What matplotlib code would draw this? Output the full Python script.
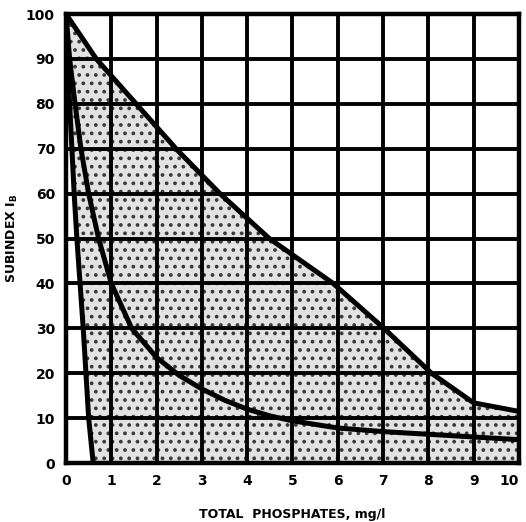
import matplotlib.pyplot as plt

# curve (total phosphates mg/l -> subindex)
upper_x = [0, 0.67, 1.55, 2.43, 3.4, 4.49, 5.9, 7.02, 8.07, 9, 10]
upper_y = [100, 90, 80, 70, 60, 50, 40, 30, 20, 13.4, 11.5]

middle_x = [0, 0.08, 0.2, 0.33, 0.5, 0.72, 1, 1.45, 2, 2.5, 3, 3.5, 4, 4.5,
            5, 6, 7, 8, 9, 10]
middle_y = [100, 90, 80, 70, 60, 50, 40, 30, 23.5, 19.5, 16.5, 14, 12, 10.5,
            9.4, 7.8, 7, 6.4, 5.8, 5.2]

steep_x = [0, 0.03, 0.08, 0.13, 0.18, 0.24, 0.31, 0.38, 0.44, 0.5, 0.6]
steep_y = [100, 90, 80, 70, 60, 50, 40, 30, 20, 10, 0]

x_ticks = list(range(0, 11))
y_ticks = list(range(0, 101, 10))


def draw_chart():
    plt.rcParams['font.family'] = ['DejaVu Sans']
    plt.rcParams['hatch.linewidth'] = 1.5

    fig = plt.figure(figsize=(5.26, 5.22), dpi=100)
    ax = fig.add_axes([0.1255, 0.113, 0.861, 0.86])

    # shaded band between the steep curve and the upper curve
    poly_x = upper_x + [10, steep_x[-1]] + steep_x[::-1]
    poly_y = upper_y + [0, 0] + steep_y[::-1]
    ax.fill(poly_x, poly_y, facecolor='#e2e2e2', hatch='..',
            edgecolor='#3a3a3a', linewidth=0, zorder=1)

    ax.set_xlim(0, 10)
    ax.set_ylim(0, 100)
    ax.set_xticks(x_ticks)
    ax.set_yticks(y_ticks)
    ax.grid(True, color='black', linewidth=2.8, zorder=2)
    ax.set_axisbelow(False)

    ax.plot(upper_x, upper_y, color='black', linewidth=3.6, zorder=3)
    ax.plot(middle_x, middle_y, color='black', linewidth=3.6, zorder=3)
    ax.plot(steep_x, steep_y, color='black', linewidth=3.6, zorder=3)

    for side in ax.spines.values():
        side.set_linewidth(3.2)
        side.set_zorder(4)

    ax.tick_params(length=0, labelsize=10, pad=8)
    for lbl in ax.get_xticklabels() + ax.get_yticklabels():
        lbl.set_fontweight('heavy')
    # last x label sits on the right edge, keep it inside the picture
    ax.get_xticklabels()[-1].set_horizontalalignment('right')

    ax.set_xlabel('TOTAL  PHOSPHATES, mg/l', fontsize=9, fontweight='heavy',
                  labelpad=14)
    ax.set_ylabel(r'SUBINDEX I$_\mathbf{B}$', fontsize=9, fontweight='heavy',
                  labelpad=4)

    fig.savefig('out.png', dpi=100)


if __name__ == '__main__':
    draw_chart()
